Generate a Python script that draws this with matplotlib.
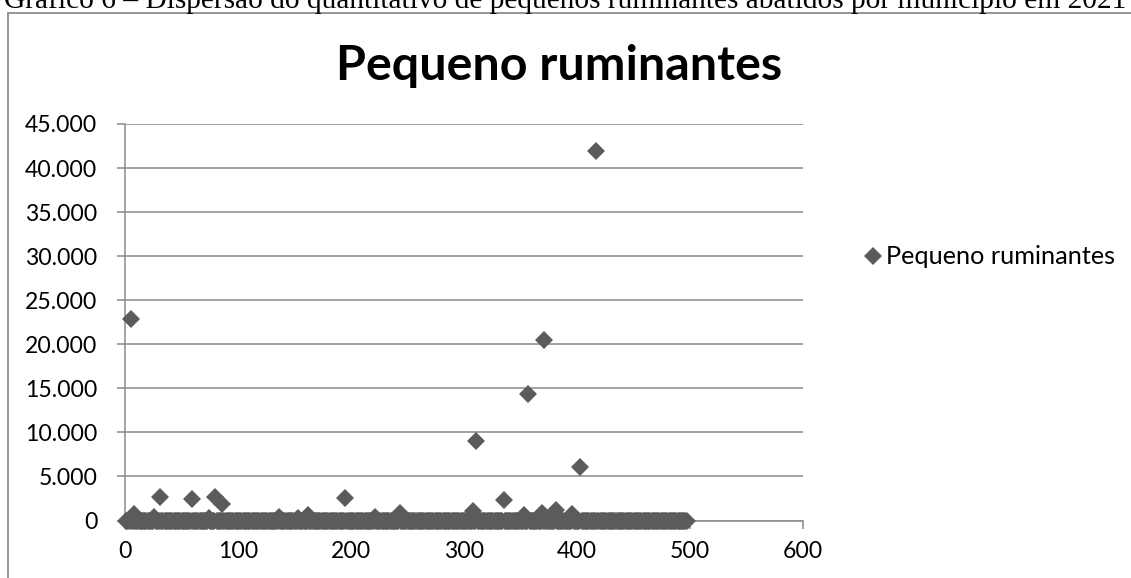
import matplotlib
matplotlib.use("Agg")
import matplotlib.pyplot as plt
from matplotlib.patches import Rectangle
from matplotlib.ticker import FuncFormatter, MultipleLocator

# Municipalities numbered 1..497 and sheep/goat slaughter counts for 2021
municipio = list(range(1, 498))
abates = [
    0, 0, 0, 0, 22850, 0, 0, 750, 0, 0, 0, 0, 0, 0, 0, 0, 0, 0, 0, 0, 0, 0, 0, 0, 0,
    350, 0, 0, 0, 0, 2700, 0, 0, 0, 0, 0, 0, 0, 0, 0, 0, 0, 0, 0, 0, 0, 0, 0, 0, 0,
    0, 0, 0, 0, 0, 0, 0, 0, 2400, 0, 0, 0, 0, 0, 0, 0, 0, 0, 0, 0, 0, 0, 0, 300, 0,
    0, 0, 0, 0, 2650, 0, 0, 0, 0, 0, 1900, 0, 0, 0, 0, 0, 0, 0, 0, 0, 0, 0, 0, 0, 0,
    0, 0, 0, 0, 0, 0, 0, 0, 0, 0, 0, 0, 0, 0, 0, 0, 0, 0, 0, 0, 0, 0, 0, 0, 0,
    0, 0, 0, 0, 0, 0, 0, 0, 0, 0, 350, 0, 0, 0, 0, 0, 0, 0, 0, 0, 0, 0, 0, 0, 0,
    0, 0, 300, 0, 0, 0, 0, 0, 0, 0, 0, 600, 0, 0, 0, 0, 0, 0, 0, 0, 0, 0, 0, 0, 0,
    0, 0, 0, 0, 0, 0, 0, 0, 0, 0, 0, 0, 0, 0, 0, 0, 0, 0, 0, 2550, 0, 0, 0, 0, 0,
    0, 0, 0, 0, 0, 0, 0, 0, 0, 0, 0, 0, 0, 0, 0, 0, 0, 0, 0, 0, 450, 0, 0, 0, 0,
    0, 0, 0, 0, 0, 0, 0, 0, 0, 0, 0, 0, 0, 0, 0, 0, 0, 800, 0, 0, 0, 0, 0, 0, 0,
    0, 0, 0, 0, 0, 0, 0, 0, 0, 0, 0, 0, 0, 0, 0, 0, 0, 0, 0, 0, 0, 0, 0, 0, 0,
    0, 0, 0, 0, 0, 0, 0, 0, 0, 0, 0, 0, 0, 0, 0, 0, 0, 0, 0, 0, 0, 0, 0, 0, 0,
    0, 0, 0, 0, 0, 0, 0, 1100, 0, 0, 9000, 0, 0, 0, 0, 0, 0, 0, 0, 0, 0, 0, 0, 0, 0,
    0, 0, 0, 0, 0, 0, 0, 0, 0, 2300, 0, 0, 0, 0, 0, 0, 0, 0, 0, 0, 0, 0, 0, 0, 0,
    0, 0, 600, 0, 0, 0, 14400, 0, 0, 0, 0, 0, 0, 0, 0, 0, 0, 0, 900, 0, 20450, 0, 0, 0, 0,
    0, 0, 0, 0, 0, 1150, 0, 0, 0, 0, 0, 0, 0, 0, 0, 0, 0, 0, 0, 0, 700, 0, 0, 0, 0,
    0, 0, 6100, 0, 0, 0, 0, 0, 0, 0, 0, 0, 0, 0, 0, 0, 41900, 0, 0, 0, 0, 0, 0, 0, 0,
    0, 0, 0, 0, 0, 0, 0, 0, 0, 0, 0, 0, 0, 0, 0, 0, 0, 0, 0, 0, 0, 0, 0, 0, 0,
    0, 0, 0, 0, 0, 0, 0, 0, 0, 0, 0, 0, 0, 0, 0, 0, 0, 0, 0, 0, 0, 0, 0, 0, 0,
    0, 0, 0, 0, 0, 0, 0, 0, 0, 0, 0, 0, 0, 0, 0, 0, 0, 0, 0, 0, 0, 0,
]

serie = "Pequeno ruminantes"
legenda = "Gráfico 6 – Dispersão do quantitativo de pequenos ruminantes abatidos por município em 2021"

plt.rcParams["font.family"] = ["Lato", "DejaVu Sans"]
W, H = 1131, 578
fig = plt.figure(figsize=(W / 100, H / 100), dpi=100)

# caption above the chart, partly cut by the page edge
fig.text(4 / W, 1 - 8 / H, legenda, family="Liberation Serif", fontsize=21.2,
         va="baseline", ha="left", color="black")

# chart frame (runs off the right and bottom edges)
fig.patches.append(Rectangle((8 / W, -0.2), 1.2, 1.2 - 13 / H,
                             transform=fig.transFigure, fill=False,
                             edgecolor="#8c8c8c", linewidth=1.3))

ax = fig.add_axes([125 / W, 1 - 520.5 / H, (803 - 125) / W, (520.5 - 124) / H])
ax.plot(municipio, abates, linestyle="none", marker="D", markersize=9,
        color="#5b5b5b", markeredgewidth=0, label=serie, clip_on=False, zorder=3)

ax.set_xlim(0, 600)
ax.set_ylim(0, 45000)
ax.xaxis.set_major_locator(MultipleLocator(100))
ax.yaxis.set_major_locator(MultipleLocator(5000))
ax.yaxis.set_major_formatter(FuncFormatter(lambda v, p: f"{int(v):,}".replace(",", ".")))

ax.grid(axis="y", color="#8a8a8a", linewidth=1.1)
ax.set_axisbelow(True)
for s in ("top", "right"):
    ax.spines[s].set_visible(False)
for s in ("left", "bottom"):
    ax.spines[s].set_color("#8a8a8a")
    ax.spines[s].set_linewidth(1.1)
ax.tick_params(axis="both", direction="out", length=6, width=1.1, color="#8a8a8a",
               labelsize=16.6, labelcolor="black")
ax.tick_params(axis="y", pad=14)
ax.tick_params(axis="x", pad=9)

fig.text(559 / W, 1 - 66 / H, serie, fontsize=34.8, fontweight="bold",
         ha="center", va="center")

fig.legend(loc="center left", bbox_to_anchor=(865 / W, 1 - 257 / H),
           bbox_transform=fig.transFigure, frameon=False, fontsize=18.2,
           handlelength=0.65, handletextpad=0.2, borderpad=0, borderaxespad=0)

fig.savefig("out.png", dpi=100)
